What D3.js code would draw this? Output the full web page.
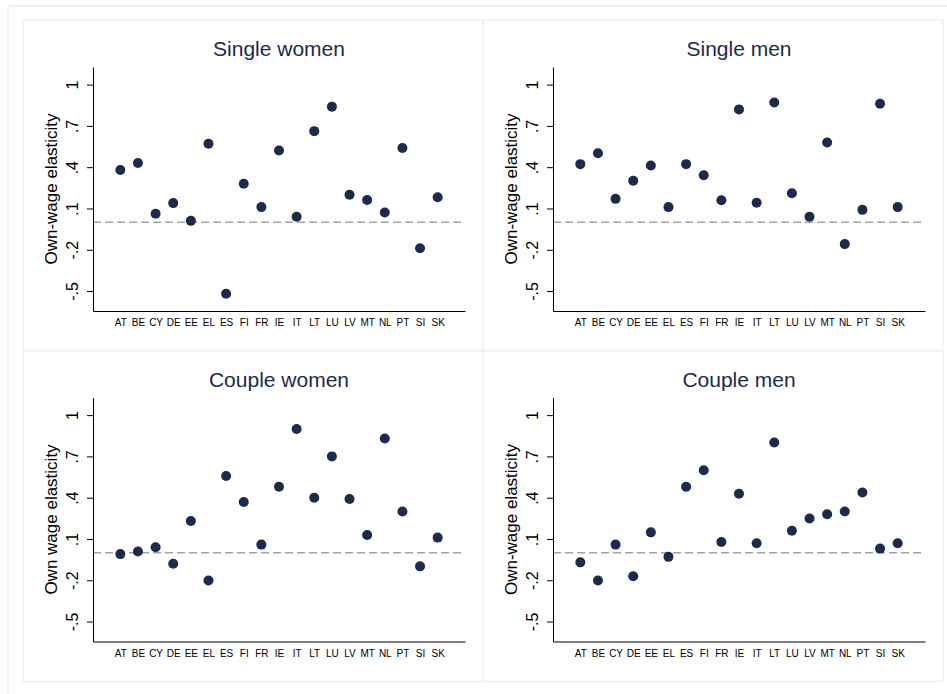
<!DOCTYPE html>
<html>
<head>
<meta charset="utf-8">
<script src="https://cdn.jsdelivr.net/npm/d3@7"></script>
<style>
  body { margin: 0; background: #fff; }
  svg { display: block; font-family: "Liberation Sans", Arial, sans-serif; }
</style>
</head>
<body>
<svg id="chart" width="947" height="694"></svg>
<script>
const countries = ["AT", "BE", "CY", "DE", "EE", "EL", "ES", "FI", "FR", "IE", "IT", "LT", "LU", "LV", "MT", "NL", "PT", "SI", "SK"];

const singleWomen = [0.38, 0.43, 0.062, 0.139, 0.01, 0.57, -0.52, 0.28, 0.11, 0.521, 0.04, 0.662, 0.84, 0.2, 0.161, 0.071, 0.54, -0.189, 0.181];
const singleMen = [0.422, 0.501, 0.17, 0.302, 0.412, 0.11, 0.422, 0.342, 0.16, 0.82, 0.141, 0.87, 0.21, 0.04, 0.58, -0.159, 0.09, 0.861, 0.11];
const coupleWomen = [-0.01, 0.009, 0.04, -0.08, 0.23, -0.202, 0.558, 0.369, 0.059, 0.479, 0.899, 0.4, 0.7, 0.39, 0.129, 0.83, 0.299, -0.099, 0.11];
const coupleMen = [-0.07, -0.202, 0.059, -0.171, 0.148, -0.03, 0.479, 0.599, 0.078, 0.429, 0.069, 0.801, 0.16, 0.249, 0.28, 0.299, 0.438, 0.03, 0.069];

const titles = ["Single women", "Single men", "Couple women", "Couple men"];
const yTitles = ["Own-wage elasticity", "Own-wage elasticity", "Own wage elasticity", "Own-wage elasticity"];
const yTicks = [-0.5, -0.2, 0.1, 0.4, 0.7, 1];
const yTickLabels = ["-.5", "-.2", ".1", ".4", ".7", "1"];
const series = [singleWomen, singleMen, coupleWomen, coupleMen];

const svg = d3.select("#chart");
const NAVY = "#1b2a4d";
const BORDER = "#edf2f4";
const PANEL_X = [23, 483];
const PANEL_Y = [20, 350.5];
const PANEL_W = 460;
const PANEL_H = 331;
const PLOT_L = 70;
const PLOT_T = 47;
const PLOT_W = 372;
const PLOT_H = 244;

// outer frame
svg.append("line").attr("x1", 8).attr("y1", 6).attr("x2", 947).attr("y2", 6)
   .attr("stroke", BORDER).attr("stroke-width", 2);
svg.append("line").attr("x1", 8).attr("y1", 6).attr("x2", 8).attr("y2", 694)
   .attr("stroke", BORDER).attr("stroke-width", 2);

const xScale = d3.scalePoint()
                 .domain(countries)
                 .range([0, PLOT_W])
                 .padding(1.55);

const yScale = d3.scaleLinear()
                 .domain([-0.645, 1.128])
                 .range([PLOT_H, 0]);

series.forEach((vals, i) => {
    const px = PANEL_X[i % 2];
    const py = PANEL_Y[Math.floor(i / 2)];

    svg.append("rect")
       .attr("x", px).attr("y", py)
       .attr("width", PANEL_W).attr("height", PANEL_H)
       .attr("fill", "none")
       .attr("stroke", BORDER)
       .attr("stroke-width", 1.5);

    const g = svg.append("g")
                 .attr("transform", `translate(${px + PLOT_L}, ${py + PLOT_T})`);

    g.append("text")
     .attr("x", PLOT_W / 2)
     .attr("y", -11)
     .attr("text-anchor", "middle")
     .attr("fill", NAVY)
     .style("font-size", "21px")
     .text(titles[i]);

    // zero reference line
    g.append("line")
     .attr("x1", 0).attr("x2", PLOT_W)
     .attr("y1", yScale(0)).attr("y2", yScale(0))
     .attr("stroke", "#a3a3a3")
     .attr("stroke-width", 1.3)
     .attr("stroke-dasharray", "8,4");

    const yAxis = d3.axisLeft(yScale)
                    .tickValues(yTicks)
                    .tickFormat((d, k) => yTickLabels[k])
                    .tickSize(6)
                    .tickSizeOuter(0);

    const ya = g.append("g").call(yAxis);
    ya.selectAll("text")
      .attr("x", 0)
      .attr("y", -15)
      .attr("dy", 0)
      .attr("transform", "rotate(-90)")
      .style("text-anchor", "middle")
      .style("font-size", "16px")
      .attr("fill", "#000");

    const xAxis = d3.axisBottom(xScale)
                    .tickSize(0)
                    .tickSizeOuter(0)
                    .tickPadding(8);

    const xa = g.append("g")
                .attr("transform", `translate(0, ${PLOT_H})`)
                .call(xAxis);
    xa.selectAll("text")
      .style("font-size", "10px")
      .attr("fill", "#000");

    svg.selectAll(".domain").attr("stroke", "#000");

    g.append("text")
     .attr("transform", `translate(-36, ${PLOT_H / 2}) rotate(-90)`)
     .attr("text-anchor", "middle")
     .style("font-size", "17px")
     .attr("fill", "#000")
     .text(yTitles[i]);

    g.selectAll("circle")
     .data(vals)
     .enter()
     .append("circle")
     .attr("cx", (d, k) => xScale(countries[k]))
     .attr("cy", (d) => yScale(d))
     .attr("r", 5)
     .attr("fill", NAVY);
});
</script>
</body>
</html>
